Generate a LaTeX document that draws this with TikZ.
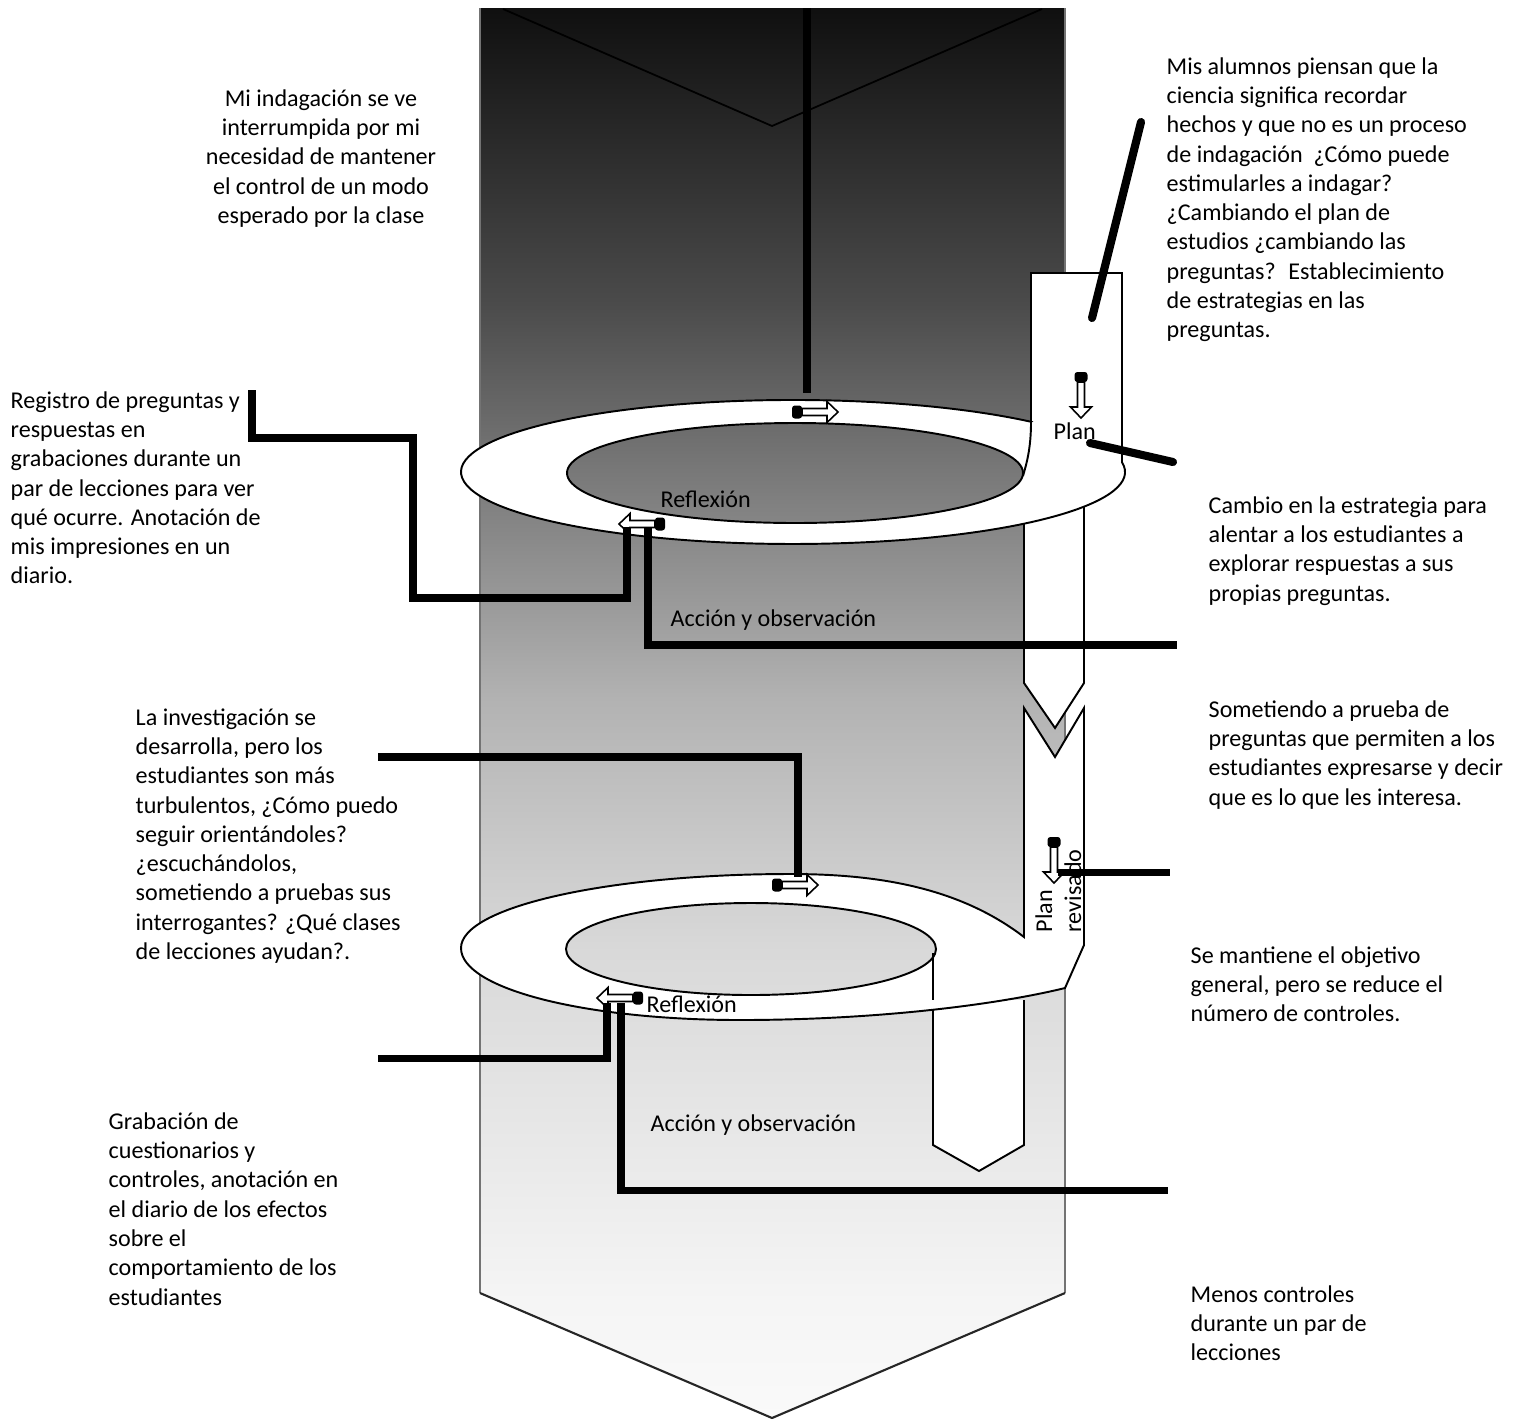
\documentclass[tikz,border=0pt]{standalone}
\usepackage{fontspec}
\setmainfont{Carlito}
\definecolor{g0}{gray}{0.06}
\definecolor{g1}{gray}{0.29}
\definecolor{g2}{gray}{0.47}
\definecolor{g3}{gray}{0.70}
\definecolor{g4}{gray}{0.85}
\definecolor{g5}{gray}{0.96}
\definecolor{g6}{gray}{0.98}
\definecolor{edgegray}{gray}{0.45}
\pgfdeclareverticalshading{colshade}{100bp}{color(0bp)=(g6); color(25bp)=(g6); color(29.2bp)=(g5); color(41.6bp)=(g4); color(50.46bp)=(g3); color(58.62bp)=(g2); color(64.65bp)=(g1); color(75bp)=(g0); color(100bp)=(g0)}
\tikzset{
  txt/.style={inner sep=0pt, font=\fontsize{6.85}{8.32}\selectfont, align=left, anchor=north west},
  link/.style={line width=2pt},
  slant/.style={line width=2.3pt, line cap=round},
  ringline/.style={draw=black, line width=0.55pt, fill=white},
  thin/.style={draw=black, line width=0.55pt},
  barrow/.pic={
    \fill[black, rounded corners=0.8pt] (0,-6.5) rectangle (10,6.5);
    \draw[fill=white, line width=0.45pt] (10,-3.5) -- (35,-3.5) -- (35,-10.5) -- (46,0) -- (35,10.5) -- (35,3.5) -- (10,3.5) -- cycle;
  }
}
\begin{document}
\begin{tikzpicture}[x=0.01cm, y=-0.01cm]
\useasboundingbox (0,0) rectangle (1519,1418);
% main column
\path[shading=colshade] (480,8) -- (1065,8) -- (1065,1293) -- (772,1418) -- (480,1293) -- cycle;
\draw[edgegray, line width=0.6pt] (480,8) -- (480,1293);
\draw[edgegray, line width=0.6pt] (1065,8) -- (1065,1293);
\draw[black!85, line width=0.6pt] (480,1293) -- (772,1418) -- (1065,1293);
\draw[black, line width=0.5pt] (503,9) -- (772,126) -- (1042,9);
% white arrows behind rings
\path[ringline] (1024,480) -- (1024,683) -- (1055,728) -- (1084,683) -- (1084,480);
\path[ringline] (933,1000) -- (933,1145) -- (979,1171) -- (1024,1145) -- (1024,1000);
% upper ring with plan box
\path[ringline, even odd rule] (1031,421.8) -- (1031,273) -- (1122,273) -- (1122,462.3)
   arc[start angle=-7.72, end angle=315.8, x radius=332, y radius=72] -- cycle
   (795,473) ellipse[x radius=228, y radius=50];
\draw[thin] (1031,421.8) .. controls (1031,450) and (1026,465) .. (1023,476);
% lower ring with revised plan band
\path[ringline, even odd rule] (1024,937) .. controls (960,888) and (880,874) .. (790,874)
   .. controls (608,874) and (461,907) .. (461,948)
   .. controls (461,989) and (586,1020) .. (740,1020)
   .. controls (880,1020) and (1000,1004) .. (1065,988)
   -- (1084,945) -- (1084,708) -- (1055,757) -- (1024,708) -- cycle
   (751,949) ellipse[x radius=185, y radius=46];
\draw[thin] (933,953) -- (933,1000);
% small block arrows
\pic at (792,412) {barrow};
\pic[xscale=-1] at (665,524) {barrow};
\pic at (772,885) {barrow};
\pic[xscale=-1] at (643,998) {barrow};
\pic[rotate=-90] at (1081,372) {barrow};
\pic[rotate=-90] at (1054,837) {barrow};
% connector end points
\coordinate (topin) at (807,8);
\coordinate (toparr) at (807,393);
\coordinate (ra1) at (252,390);
\coordinate (ra2) at (627,527);
\coordinate (rb1) at (648,527);
\coordinate (rb2) at (1177,645);
\coordinate (d1a) at (1141,122);
\coordinate (d1b) at (1092,318);
\coordinate (d2a) at (1090,443);
\coordinate (d2b) at (1173,462);
\coordinate (la1) at (378,757);
\coordinate (la2) at (798,877);
\coordinate (lb1) at (378,1058);
\coordinate (lb2) at (607,1003);
\coordinate (lc1) at (621,1003);
\coordinate (lc2) at (1168,1190);
\coordinate (ld1) at (1058,872);
\coordinate (ld2) at (1170,872);
% connectors
\draw[link] (topin) -- (toparr);
\draw[link] (ra1) |- (413,438) |- (627,598) -- (ra2);
\draw[link] (rb1) |- (rb2);
\draw[slant] (d1a) -- (d1b);
\draw[slant] (d2a) -- (d2b);
\draw[link] (la1) -| (la2);
\draw[link] (lb1) -| (lb2);
\draw[link] (lc1) |- (lc2);
\draw[link] (ld1) -- (ld2);
% labels
\node[txt, anchor=north, align=center] (t1) at (321,89) {Mi indagación se ve\\interrumpida por mi\\necesidad de mantener\\el control de un modo\\esperado por la clase};
\node[txt] (t2) at (1166,57) {Mis alumnos piensan que la\\ciencia significa recordar\\hechos y que no es un proceso\\de indagación \ ¿Cómo puede\\estimularles a indagar?\\¿Cambiando el plan de\\estudios ¿cambiando las\\preguntas? \ Establecimiento\\de estrategias en las\\preguntas.};
\node[txt] (t3) at (10,391) {Registro de preguntas y\\respuestas en\\grabaciones durante un\\par de lecciones para ver\\qué ocurre. Anotación de\\mis impresiones en un\\diario.};
\node[txt] (t4) at (1208,496) {Cambio en la estrategia para\\alentar a los estudiantes a\\explorar respuestas a sus\\propias preguntas.};
\node[txt] (t5) at (670,609) {Acción y observación};
\node[txt] (t6) at (660,490) {Reflexión};
\node[txt] (t7) at (1053,422) {Plan};
\node[txt] (t8) at (135,708) {La investigación se\\desarrolla, pero los\\estudiantes son más\\turbulentos, ¿Cómo puedo\\seguir orientándoles?\\¿escuchándolos,\\sometiendo a pruebas sus\\interrogantes? ¿Qué clases\\de lecciones ayudan?.};
\node[txt] (t9) at (1208,700) {Sometiendo a prueba de\\preguntas que permiten a los\\estudiantes expresarse y decir\\que es lo que les interesa.};
\node[txt, rotate=90, anchor=south west] (t10) at (1053,933) {Plan};
\node[txt, rotate=90, anchor=south west] (t11) at (1082,933) {revisado};
\node[txt] (t12) at (1190,946) {Se mantiene el objetivo\\general, pero se reduce el\\número de controles.};
\node[txt] (t13) at (646,995) {Reflexión};
\node[txt] (t14) at (650,1114) {Acción y observación};
\node[txt] (t15) at (108,1112) {Grabación de\\cuestionarios y\\controles, anotación en\\el diario de los efectos\\sobre el\\comportamiento de los\\estudiantes};
\node[txt] (t16) at (1190,1285) {Menos controles\\durante un par de\\lecciones};
\end{tikzpicture}
\end{document}
